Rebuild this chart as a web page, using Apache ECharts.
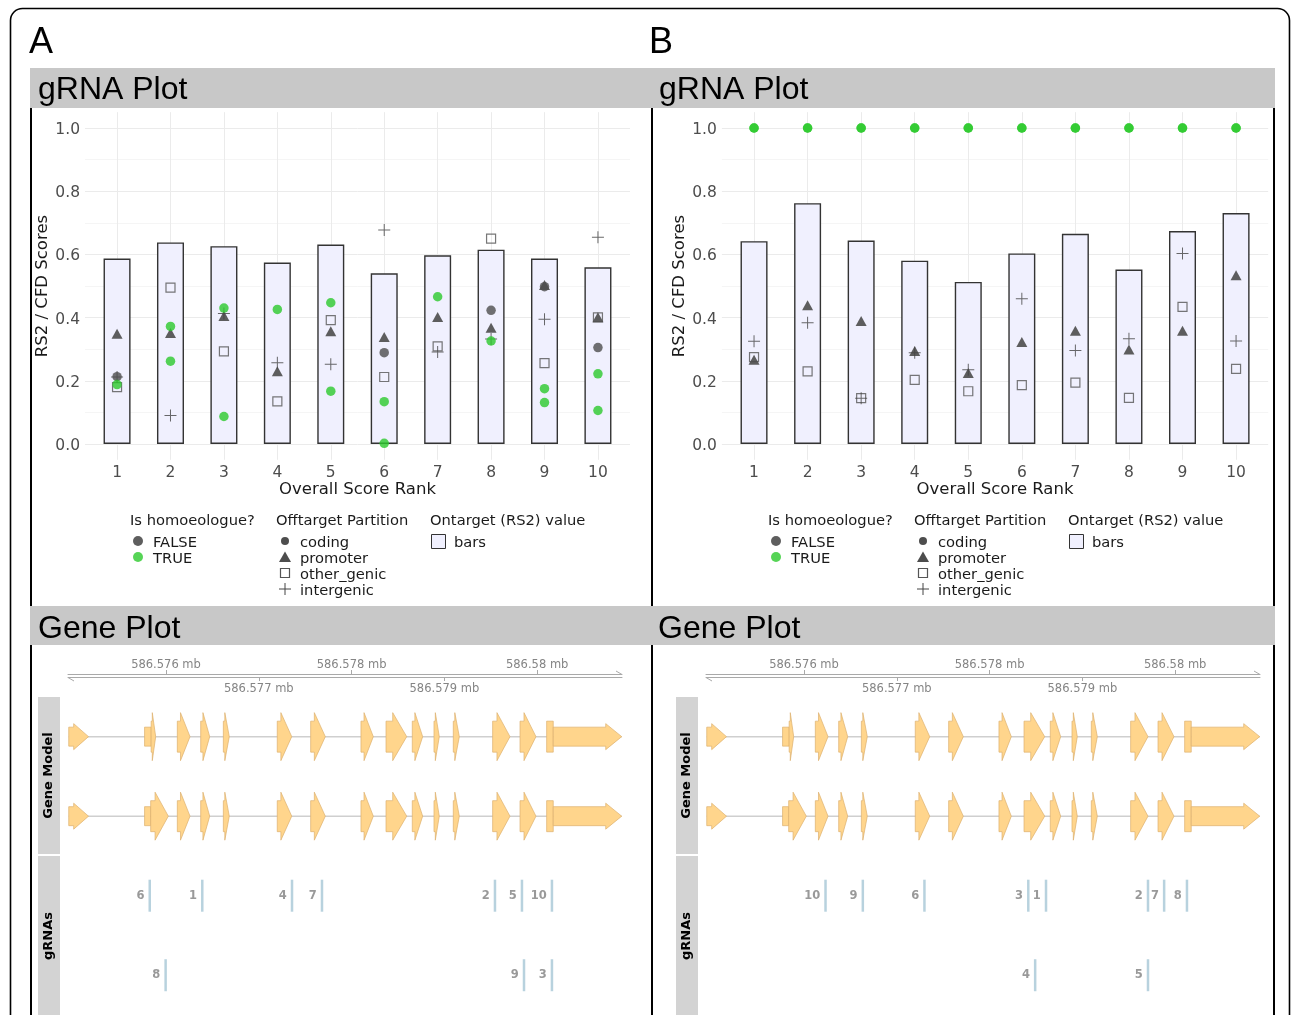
<!DOCTYPE html>
<html><head><meta charset="utf-8">
<script src="https://cdn.jsdelivr.net/npm/echarts@6/dist/echarts.min.js"></script>
<style>html,body{margin:0;padding:0;background:#fff}#c{width:1292px;height:1015px}</style>
</head><body><div id="c"></div>
<script>
// ---------------- data ----------------
const ranks = [1,2,3,4,5,6,7,8,9,10];
const yTicks = [0,0.2,0.4,0.6,0.8,1.0];
const yMinorTicks = [0.1,0.3,0.5,0.7,0.9];
const A_ontarget = [0.587,0.638,0.626,0.574,0.631,0.540,0.597,0.615,0.587,0.559];
const B_ontarget = [0.642,0.762,0.644,0.580,0.513,0.603,0.665,0.552,0.674,0.731];
// [rank, score, isHomoeologue]
const A_coding = [[1,0.213,false],[1,0.188,true],[2,0.372,true],[2,0.262,true],[3,0.430,true],[3,0.087,true],[4,0.426,true],[5,0.447,true],[5,0.167,true],[6,0.289,false],[6,0.134,true],[6,0.002,true],[7,0.466,true],[8,0.423,false],[8,0.326,true],[9,0.498,false],[9,0.175,true],[9,0.131,true],[10,0.305,false],[10,0.222,true],[10,0.106,true]];
const A_promoter = [[1,0.349,false],[2,0.351,false],[3,0.405,false],[4,0.230,false],[5,0.357,false],[6,0.339,false],[7,0.402,false],[8,0.368,false],[9,0.503,false],[10,0.401,false]];
const A_other = [[1,0.180,false],[2,0.495,false],[3,0.293,false],[4,0.135,false],[5,0.392,false],[6,0.212,false],[7,0.309,false],[8,0.650,false],[9,0.256,false],[10,0.401,false]];
const A_intergenic = [[1,0.212,false],[2,0.090,false],[3,0.413,false],[4,0.257,false],[5,0.252,false],[6,0.677,false],[7,0.291,false],[8,0.332,false],[9,0.395,false],[10,0.654,false]];
const B_coding = [[1,1.0,true],[1,1.0,true],[2,1.0,true],[2,1.0,true],[3,1.0,true],[3,1.0,true],[4,1.0,true],[4,1.0,true],[5,1.0,true],[5,1.0,true],[6,1.0,true],[6,1.0,true],[7,1.0,true],[7,1.0,true],[8,1.0,true],[8,1.0,true],[9,1.0,true],[9,1.0,true],[10,1.0,true],[10,1.0,true]];
const B_promoter = [[1,0.267,false],[2,0.439,false],[3,0.389,false],[4,0.294,false],[5,0.225,false],[6,0.323,false],[7,0.358,false],[8,0.299,false],[9,0.358,false],[10,0.534,false]];
const B_other = [[1,0.275,false],[2,0.230,false],[3,0.145,false],[4,0.203,false],[5,0.167,false],[6,0.186,false],[7,0.194,false],[8,0.146,false],[9,0.434,false],[10,0.238,false]];
const B_intergenic = [[1,0.325,false],[2,0.384,false],[3,0.145,false],[4,0.289,false],[5,0.235,false],[6,0.460,false],[7,0.296,false],[8,0.333,false],[9,0.603,false],[10,0.326,false]];

const geneTicksUpper = [586.576, 586.578, 586.58];
const geneTicksLower = [586.577, 586.579];
const geneViewStart = 586.574944, geneViewEnd = 586.580914;
// exon parts: [start_mb, end_mb, part, exonId]
const transcript1 = [
  [586.574952,586.575165,'utr',1],
  [586.575769,586.575840,'utr',2],[586.575840,586.575889,'cds',2],
  [586.576122,586.576259,'cds',3],[586.576374,586.576471,'cds',4],[586.576618,586.576682,'cds',5],
  [586.577199,586.577355,'cds',6],[586.577559,586.577717,'cds',7],[586.578101,586.578234,'cds',8],
  [586.578371,586.578594,'cds',9],[586.578654,586.578766,'cds',10],[586.578888,586.578945,'cds',11],
  [586.579096,586.579161,'cds',12],[586.579520,586.579707,'cds',13],[586.579815,586.579987,'cds',14],
  [586.580102,586.580173,'cds',15],[586.580173,586.580911,'utr',15]
];
const transcript2 = [
  [586.574952,586.575165,'utr',1],
  [586.575769,586.575835,'utr',2],[586.575835,586.576025,'cds',2],
  [586.576122,586.576259,'cds',3],[586.576374,586.576471,'cds',4],[586.576618,586.576682,'cds',5],
  [586.577199,586.577355,'cds',6],[586.577559,586.577717,'cds',7],[586.578101,586.578234,'cds',8],
  [586.578371,586.578594,'cds',9],[586.578654,586.578766,'cds',10],[586.578888,586.578945,'cds',11],
  [586.579096,586.579161,'cds',12],[586.579520,586.579707,'cds',13],[586.579815,586.579987,'cds',14],
  [586.580102,586.580173,'cds',15],[586.580173,586.580911,'utr',15]
];
// gRNA: [label, position_mb, stackRow]
const A_grnas = [['6',586.575825,1],['1',586.576391,1],['4',586.577358,1],['7',586.577681,1],['2',586.579545,1],['5',586.579836,1],['10',586.580159,1],['8',586.575996,2],['9',586.579858,2],['3',586.580159,2]];
const B_grnas = [['10',586.576232,1],['9',586.576634,1],['6',586.577298,1],['3',586.578417,1],['1',586.578608,1],['2',586.579707,1],['7',586.579881,1],['8',586.580127,1],['4',586.578491,2],['5',586.579707,2]];

// ---------------- styles ----------------
const FONT = 'DejaVu Sans';
const HFONT = 'Liberation Sans';
const COL_FALSE = '#4d4d4d', COL_TRUE = '#2cc92c';
const BAR_FILL = '#f0f0fe';
const PLUS = 'path://M5.5,0h1v5.5h5.5v1h-5.5v5.5h-1v-5.5h-5.5v-1h5.5z';

function ptColor(p){ return p.data[2] ? COL_TRUE : COL_FALSE; }

function scatterSeries(data, xi, yi, kind){
  const s = {type:'scatter', xAxisIndex:xi, yAxisIndex:yi, data:data, silent:true, z:3};
  if (kind==='coding'){ s.symbol='circle'; s.symbolSize=9.5; s.itemStyle={color:ptColor, opacity:0.8}; }
  if (kind==='promoter'){ s.symbol='triangle'; s.symbolSize=[11,10]; s.itemStyle={color:COL_FALSE, opacity:0.9}; }
  if (kind==='other'){ s.symbol='rect'; s.symbolSize=9; s.itemStyle={color:'rgba(0,0,0,0)', borderColor:'#555', borderWidth:1.2}; }
  if (kind==='intergenic'){ s.symbol=PLUS; s.symbolSize=12; s.itemStyle={color:'#444'}; }
  return s;
}

function scatterXAxis(gi){
  return {gridIndex:gi, type:'value', min:0.4, max:10.6,
    axisLine:{show:false},
    axisTick:{show:false, customValues:ranks},
    axisLabel:{customValues:ranks, fontFamily:FONT, fontSize:15.5, color:'#4d4d4d', margin:5},
    splitLine:{show:true, lineStyle:{color:'#ebebeb', width:1}},
    name:'Overall Score Rank', nameLocation:'middle', nameGap:21,
    nameTextStyle:{fontFamily:FONT, fontSize:16.5, color:'#1a1a1a'}};
}
function scatterYAxisMajor(gi){
  return {gridIndex:gi, type:'value', min:-0.05, max:1.05,
    axisLine:{show:false},
    axisTick:{show:false, customValues:yTicks},
    axisLabel:{customValues:yTicks, formatter:v=>'{t|'+v.toFixed(1)+'}', margin:5,
      rich:{t:{fontFamily:FONT, fontSize:15.5, color:'#4d4d4d', padding:[4,0,0,0]}}},
    splitLine:{show:true, lineStyle:{color:'#ebebeb', width:1}},
    name:'RS2 / CFD Scores', nameLocation:'middle', nameGap:33,
    nameTextStyle:{fontFamily:FONT, fontSize:16.5, color:'#1a1a1a'}};
}
function scatterYAxisMinor(gi){
  return {gridIndex:gi, type:'value', min:-0.05, max:1.05, position:'left',
    axisLine:{show:false},
    axisTick:{show:false, customValues:yMinorTicks},
    axisLabel:{show:false, customValues:yMinorTicks},
    splitLine:{show:true, lineStyle:{color:'#f5f5f5', width:1}}};
}
function geneXAxes(gi){
  const common = {gridIndex:gi, type:'value', min:geneViewStart, max:geneViewEnd, position:'top',
    splitLine:{show:false}};
  return [
    Object.assign({}, common, {offset:3,
      axisLine:{show:true, lineStyle:{color:'#a9a9a9', width:1}},
      axisTick:{show:true, customValues:geneTicksUpper, length:4, lineStyle:{color:'#a9a9a9'}},
      axisLabel:{customValues:geneTicksUpper, formatter:v=>v+' mb', fontFamily:FONT, fontSize:11.5, color:'#858585', margin:3}}),
    Object.assign({}, common, {offset:0,
      axisLine:{show:true, lineStyle:{color:'#a9a9a9', width:1}},
      axisTick:{show:true, inside:true, customValues:geneTicksLower, length:4, lineStyle:{color:'#a9a9a9'}},
      axisLabel:{inside:true, customValues:geneTicksLower, formatter:v=>v+' mb', fontFamily:FONT, fontSize:11.5, color:'#858585', margin:6}})
  ];
}
function geneYAxis(gi){
  return {gridIndex:gi, type:'value', min:0.25, max:4.5, inverse:true, show:false};
}

function exonSeries(pieces, row, xi, yi){
  return {type:'custom', xAxisIndex:xi, yAxisIndex:yi, silent:true, z:3,
    data: pieces.map(p=>[p[0], p[1], row]),
    encode:{x:[0,1], y:2},
    renderItem:function(params, api){
      const p = pieces[params.dataIndex];
      const nx = pieces[params.dataIndex+1];
      const isEnd = !nx || nx[3] !== p[3];
      const a = api.coord([api.value(0), api.value(2)]);
      const b = api.coord([api.value(1), api.value(2)]);
      const x0=a[0], x1=b[0], cy=a[1];
      const cds = p[2]==='cds';
      const hb = cds?31:19, hh = cds?48:26, L0 = cds?14:16;
      let pts;
      if (isEnd){
        const L = Math.min(L0, 0.75*(x1-x0));
        const xh = x1-L;
        pts=[[x0,cy-hb/2],[xh,cy-hb/2],[xh,cy-hh/2],[x1,cy],[xh,cy+hh/2],[xh,cy+hb/2],[x0,cy+hb/2]];
      } else {
        pts=[[x0,cy-hb/2],[x1,cy-hb/2],[x1,cy+hb/2],[x0,cy+hb/2]];
      }
      return {type:'polygon', shape:{points:pts}, style:{fill:'#FFD58C', stroke:'#DDB06E', lineWidth:0.7}};
    }};
}
function intronSeries(pieces, row, xi, yi){
  return {type:'line', xAxisIndex:xi, yAxisIndex:yi, silent:true, z:2, symbol:'none',
    data:[[pieces[0][0], row],[pieces[pieces.length-1][1], row]],
    lineStyle:{color:'#cfcfcf', width:1.5}};
}
function grnaSeries(list, xi, yi){
  return {type:'scatter', xAxisIndex:xi, yAxisIndex:yi, silent:true, z:3,
    symbol:'rect', symbolSize:[2.5,32],
    itemStyle:{color:'#a6c7d6'},
    data:list.map(g=>({name:g[0], value:[g[1], g[2]+2]})),
    label:{show:true, position:'left', distance:4, formatter:'{b}',
      fontFamily:FONT, fontWeight:'bold', fontSize:11.5, color:'#808080'}};
}

// ---------------- graphics ----------------
function legendGraphics(dx){
  const g=[];
  const txt=(x,y,s)=>g.push({type:'text', x:x+dx, y:y+2, z:10,
    style:{text:s, fontFamily:FONT, fontSize:14.7, fill:'#1a1a1a', verticalAlign:'middle', align:'left'}});
  txt(130,519,'Is homoeologue?');
  g.push({type:'circle', z:10, shape:{cx:138+dx, cy:541, r:5}, style:{fill:COL_FALSE, opacity:0.9}});
  g.push({type:'circle', z:10, shape:{cx:138+dx, cy:557, r:5}, style:{fill:COL_TRUE, opacity:0.8}});
  txt(153,541,'FALSE'); txt(153,557,'TRUE');
  txt(276,519,'Offtarget Partition');
  g.push({type:'circle', z:10, shape:{cx:285+dx, cy:541, r:4}, style:{fill:COL_FALSE}});
  g.push({type:'polygon', z:10, shape:{points:[[285+dx,551.5],[291+dx,562],[279+dx,562]]}, style:{fill:COL_FALSE}});
  g.push({type:'rect', z:10, shape:{x:280.5+dx, y:568.5, width:9, height:9}, style:{fill:'none', stroke:'#555', lineWidth:1.2}});
  g.push({type:'line', z:10, shape:{x1:279+dx, y1:589, x2:291+dx, y2:589}, style:{stroke:'#444', lineWidth:1}});
  g.push({type:'line', z:10, shape:{x1:285+dx, y1:583, x2:285+dx, y2:595}, style:{stroke:'#444', lineWidth:1}});
  txt(300,541,'coding'); txt(300,557,'promoter'); txt(300,573,'other_genic'); txt(300,589,'intergenic');
  txt(430,519,'Ontarget (RS2) value');
  g.push({type:'rect', z:10, shape:{x:431.5+dx, y:534.5, width:14, height:14}, style:{fill:BAR_FILL, stroke:'#333', lineWidth:1}});
  txt(454,541,'bars');
  return g;
}
function headerGraphics(x, w, y, h, title, tx, dy){
  return [
    {type:'rect', z:5, shape:{x:x, y:y, width:w, height:h}, style:{fill:'#c8c8c8'}},
    {type:'text', z:6, x:tx, y:y+h/2+dy, style:{text:title, fontFamily:HFONT, fontSize:32, fill:'#000', verticalAlign:'middle'}}
  ];
}
function trackLabel(x, y, h, s){
  return [
    {type:'rect', z:5, shape:{x:x, y:y, width:22, height:h}, style:{fill:'#d3d3d3'}},
    {type:'text', z:6, x:x+11, y:y+h/2, rotation:Math.PI/2,
      style:{text:s, fontFamily:FONT, fontWeight:'bold', fontSize:13, fill:'#000', align:'center', verticalAlign:'middle'}}
  ];
}
function axisArrows(x0, x1, y){
  return [
    {type:'line', z:4, shape:{x1:x0, y1:y+0.5, x2:x0+6, y2:y+4}, style:{stroke:'#a9a9a9', lineWidth:1}},
    {type:'line', z:4, shape:{x1:x1, y1:y-2.5, x2:x1-6, y2:y-6}, style:{stroke:'#a9a9a9', lineWidth:1}}
  ];
}
const graphics = [].concat(
  [{type:'rect', z:1, shape:{x:10.5, y:8.5, width:1279, height:1040, r:12}, style:{fill:'none', stroke:'#000', lineWidth:1.6}},
   {type:'line', z:1, shape:{x1:31, y1:68, x2:31, y2:1015}, style:{stroke:'#000', lineWidth:2}},
   {type:'line', z:1, shape:{x1:652, y1:68, x2:652, y2:1015}, style:{stroke:'#000', lineWidth:2}},
   {type:'line', z:1, shape:{x1:1274, y1:68, x2:1274, y2:1015}, style:{stroke:'#000', lineWidth:2}},
   {type:'text', z:6, x:29, y:43, style:{text:'A', fontFamily:HFONT, fontSize:36, fill:'#000', verticalAlign:'middle'}},
   {type:'text', z:6, x:649, y:43, style:{text:'B', fontFamily:HFONT, fontSize:36, fill:'#000', verticalAlign:'middle'}}],
  headerGraphics(30, 622, 68, 40, 'gRNA Plot', 38, 2),
  headerGraphics(652, 623, 68, 40, 'gRNA Plot', 659, 2),
  headerGraphics(30, 622, 606, 39, 'Gene Plot', 38, 3.5),
  headerGraphics(652, 623, 606, 39, 'Gene Plot', 658, 3.5),
  trackLabel(38, 697, 157, 'Gene Model'), trackLabel(38, 856, 160, 'gRNAs'),
  trackLabel(676, 697, 157, 'Gene Model'), trackLabel(676, 856, 160, 'gRNAs'),
  axisArrows(68, 622, 677), axisArrows(706, 1260, 677),
  legendGraphics(0), legendGraphics(638)
);

const pair = (r, arr) => r.map((x,i)=>[x, arr[i]]);
const barStyle = {color:BAR_FILL, borderColor:'#333', borderWidth:1.4};

const option = {
  animation:false,
  backgroundColor:'#fff',
  grid:[
    {left:85, top:112.2, width:545, height:347.6},
    {left:721.9, top:112.2, width:546.3, height:347.6},
    {left:68, top:677, width:554, height:338},
    {left:706, top:677, width:554, height:338}
  ],
  xAxis:[scatterXAxis(0), scatterXAxis(1)].concat(geneXAxes(2), geneXAxes(3)),
  yAxis:[scatterYAxisMajor(0), scatterYAxisMinor(0), scatterYAxisMajor(1), scatterYAxisMinor(1), geneYAxis(2), geneYAxis(3)],
  series:[
    {type:'bar', xAxisIndex:0, yAxisIndex:0, data:pair(ranks, A_ontarget), barWidth:27, itemStyle:barStyle, silent:true, z:2},
    {type:'bar', xAxisIndex:1, yAxisIndex:2, data:pair(ranks, B_ontarget), barWidth:27, itemStyle:barStyle, silent:true, z:2},
    scatterSeries(A_other,0,0,'other'), scatterSeries(A_promoter,0,0,'promoter'), scatterSeries(A_intergenic,0,0,'intergenic'), scatterSeries(A_coding,0,0,'coding'),
    scatterSeries(B_other,1,2,'other'), scatterSeries(B_promoter,1,2,'promoter'), scatterSeries(B_intergenic,1,2,'intergenic'), scatterSeries(B_coding,1,2,'coding'),
    intronSeries(transcript1,1,2,4), intronSeries(transcript2,2,2,4),
    exonSeries(transcript1,1,2,4), exonSeries(transcript2,2,2,4),
    intronSeries(transcript1,1,4,5), intronSeries(transcript2,2,4,5),
    exonSeries(transcript1,1,4,5), exonSeries(transcript2,2,4,5),
    grnaSeries(A_grnas,2,4), grnaSeries(B_grnas,4,5)
  ],
  graphic:graphics
};
const chart = echarts.init(document.getElementById('c'), null, {renderer:'canvas'});
chart.setOption(option);
</script></body></html>
